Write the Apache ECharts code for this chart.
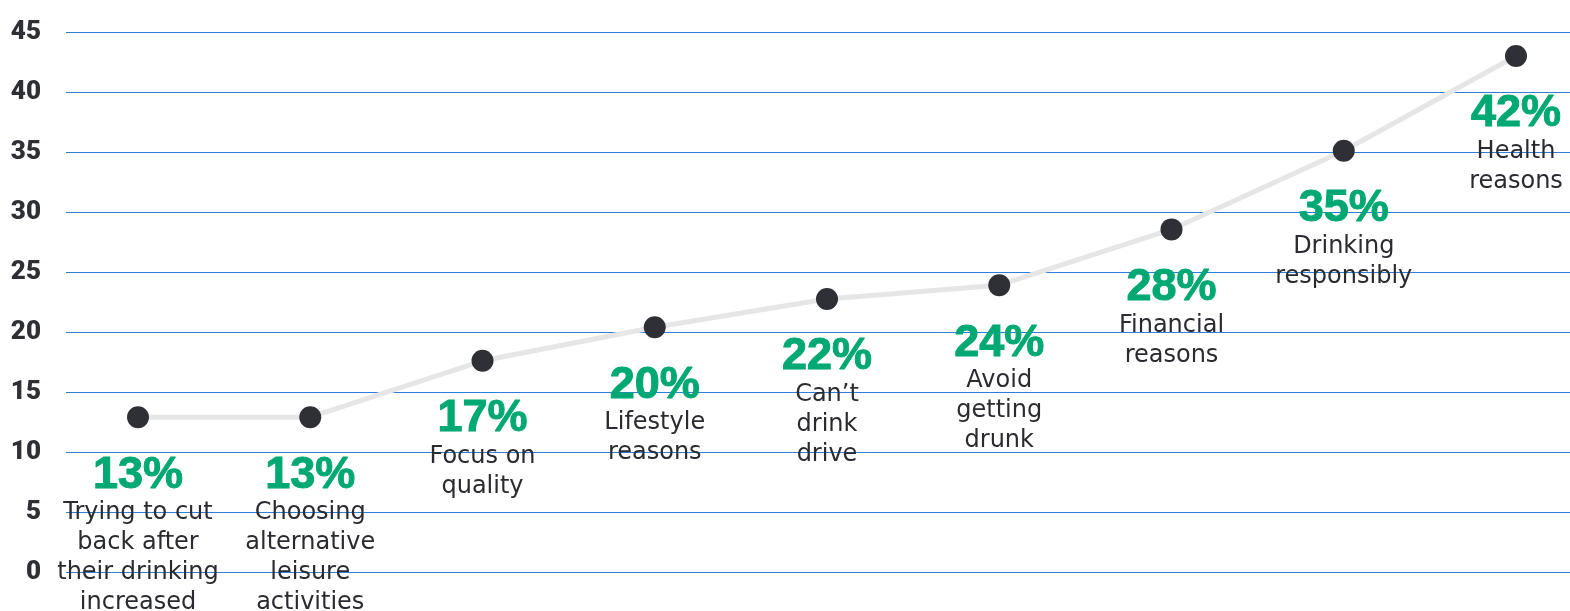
<!DOCTYPE html>
<html>
<head>
<meta charset="utf-8">
<style>
  html, body { margin: 0; padding: 0; background: #ffffff; }
  #chart { width: 1570px; height: 611px; }
</style>
<script src="https://cdn.jsdelivr.net/npm/echarts@6/dist/echarts.min.js"></script>
</head>
<body>
<div id="chart"></div>
<script>
// ---- data ----
const categories = [
  'Trying to cut\nback after\ntheir drinking\nincreased',
  'Choosing\nalternative\nleisure\nactivities',
  'Focus on\nquality',
  'Lifestyle\nreasons',
  'Can\u2019t\ndrink\ndrive',
  'Avoid\ngetting\ndrunk',
  'Financial\nreasons',
  'Drinking\nresponsibly',
  'Health\nreasons'
];
const values = [12.9, 12.9, 17.6, 20.4, 22.75, 23.9, 28.55, 35.1, 43.0];
const percentLabels = ['13%', '13%', '17%', '20%', '22%', '24%', '28%', '35%', '42%'];
const yTicks = [0, 5, 10, 15, 20, 25, 30, 35, 40, 45];

// ---- chart ----
const chart = echarts.init(document.getElementById('chart'), null, { renderer: 'canvas' });

const option = {
  backgroundColor: '#ffffff',
  animation: false,
  grid: [
    { left: 66, right: 0, top: 32, bottom: 39 },
    { left: 138, right: 54, top: 32, bottom: 39 }
  ],
  xAxis: [
    { gridIndex: 0, type: 'category', data: categories, show: false },
    { gridIndex: 1, type: 'category', data: categories, boundaryGap: false, show: false }
  ],
  yAxis: [
    {
      gridIndex: 0,
      type: 'value',
      min: yTicks[0],
      max: yTicks[yTicks.length - 1],
      interval: 5,
      axisLine: { show: false },
      axisTick: { show: false },
      axisLabel: {
        margin: 25,
        color: '#2f3035',
        fontFamily: 'Roboto, "Liberation Sans", Arial, sans-serif',
        fontWeight: 900,
        fontSize: 26,
        verticalAlign: 'middle',
        padding: [0, 0, 10, 0]
      },
      splitLine: { show: true, lineStyle: { color: '#2f7fd6', width: 1.2 } }
    },
    {
      gridIndex: 1,
      type: 'value',
      min: yTicks[0],
      max: yTicks[yTicks.length - 1],
      interval: 5,
      show: false,
      splitLine: { show: false }
    }
  ],
  series: [
    {
      type: 'line',
      xAxisIndex: 1,
      yAxisIndex: 1,
      data: values,
      symbol: 'circle',
      symbolSize: 22,
      itemStyle: { color: '#2f3035' },
      lineStyle: { color: '#e6e6e6', width: 5 },
      z: 3,
      label: {
        show: true,
        position: 'bottom',
        distance: 24,
        align: 'center',
        formatter: function (p) {
          const lines = categories[p.dataIndex].split('\n').map(s => '{c|' + s + '}');
          return '{p|' + percentLabels[p.dataIndex] + '}\n' + lines.join('\n');
        },
        rich: {
          p: {
            fontFamily: '"Liberation Sans", Arial, sans-serif',
            fontWeight: 'bold',
            fontSize: 45,
            lineHeight: 46,
            color: '#00a873',
            textBorderColor: '#00a873',
            textBorderWidth: 1,
            align: 'center'
          },
          c: {
            fontFamily: '"DejaVu Sans", sans-serif',
            fontSize: 24,
            lineHeight: 30,
            color: '#2a2b30',
            align: 'center'
          }
        }
      }
    }
  ]
};

chart.setOption(option);
</script>
</body>
</html>
